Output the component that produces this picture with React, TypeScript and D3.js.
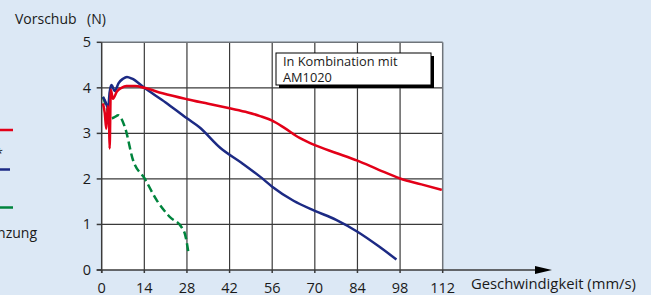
import React from "react";
import * as d3 from "d3";

const W = 651;
const H = 295;

const xTicks = [0, 14, 28, 42, 56, 70, 84, 98, 112];
const yTicks = [0, 1, 2, 3, 4, 5];

const redV = [0.4, 1.0, 1.5, 2.0, 2.4, 2.6, 3.0, 3.7, 5.0, 6.5, 8.1, 11, 14, 20, 28, 35, 42, 48, 52, 56, 60, 65, 70, 77, 84, 91, 98, 105, 111.7];
const redF = [3.66, 3.45, 3.1, 3.6, 3.3, 2.67, 3.96, 3.76, 3.92, 4.0, 4.04, 4.04, 4.0, 3.88, 3.75, 3.65, 3.55, 3.46, 3.38, 3.28, 3.12, 2.9, 2.74, 2.57, 2.4, 2.2, 2.01, 1.88, 1.76];

const blueV = [0.4, 1.2, 2.1, 2.6, 3.2, 4.3, 5.5, 7.0, 8.3, 10, 14, 21, 28, 32, 39, 46, 52, 56, 63, 70, 77, 84, 91, 96.8];
const blueF = [3.8, 3.7, 3.55, 3.9, 4.06, 3.93, 4.1, 4.2, 4.24, 4.2, 4.0, 3.68, 3.33, 3.14, 2.68, 2.35, 2.05, 1.83, 1.52, 1.3, 1.1, 0.84, 0.52, 0.23];

const greenV = [0.4, 1.5, 3.0, 4.3, 5.4, 7.6, 10.3, 14.1, 18, 22.3, 26.5, 27.3, 28.6];
const greenF = [3.8, 3.6, 3.33, 3.36, 3.4, 3.14, 2.41, 2.01, 1.54, 1.17, 0.91, 0.8, 0.33];

const FONT = "'Open Sans', 'DejaVu Sans', sans-serif";

export default function App() {
  const x = d3.scaleLinear().domain([0, 112]).range([101.7, 442.7]);
  const y = d3.scaleLinear().domain([0, 5]).range([270, 42.3]);

  const line = d3
    .line<[number, number]>()
    .x((d) => x(d[0]))
    .y((d) => y(d[1]))
    .curve(d3.curveMonotoneX);

  const red = line(redV.map((v, i) => [v, redF[i]]) as [number, number][]) || "";
  const blue = line(blueV.map((v, i) => [v, blueF[i]]) as [number, number][]) || "";
  const green = line(greenV.map((v, i) => [v, greenF[i]]) as [number, number][]) || "";

  const x0 = x(0);
  const x1 = x(112);
  const y0 = y(0);
  const y1 = y(5);

  return (
    <svg
      width={W}
      height={H}
      style={{ position: "absolute", left: 0, top: 0, display: "block" }}
      fontFamily={FONT}
    >
      <rect x={0} y={0} width={W} height={H} fill="#dce8f5" />
      {/* plot area */}
      <rect x={x0} y={y1} width={x1 - x0} height={y0 - y1} fill="#ffffff" />
      {/* grid */}
      {xTicks.slice(1, -1).map((t) => (
        <line key={"gx" + t} x1={x(t)} x2={x(t)} y1={y1} y2={y0} stroke="#3a3a3a" strokeWidth={1.2} />
      ))}
      {yTicks.slice(1, -1).map((t) => (
        <line key={"gy" + t} x1={x0} x2={x1} y1={y(t)} y2={y(t)} stroke="#3a3a3a" strokeWidth={1.2} />
      ))}
      {/* border top/right */}
      <line x1={x0} x2={x1} y1={y1} y2={y1} stroke="#6f747a" strokeWidth={1.5} />
      <line x1={x1} x2={x1} y1={y1} y2={y0} stroke="#6f747a" strokeWidth={1.5} />
      {/* axes */}
      <line x1={x0} x2={x0} y1={y1} y2={y0 + 3} stroke="#3a3a3a" strokeWidth={1.5} />
      <line x1={x0 - 5} x2={537} y1={y0} y2={y0} stroke="#3a3a3a" strokeWidth={1.5} />
      <path d={`M535,${y0 - 4} L552,${y0} L535,${y0 + 4} Z`} fill="#000" />
      {yTicks.map((t) => (
        <g key={"yt" + t}>
          <line x1={x0 - 5} x2={x0} y1={y(t)} y2={y(t)} stroke="#3a3a3a" strokeWidth={1.5} />
          <text x={91} y={y(t) + 5} textAnchor="end" fontSize={14.5} fill="#1a1a1a">
            {t}
          </text>
        </g>
      ))}
      {xTicks.map((t) => (
        <g key={"xt" + t}>
          <line x1={x(t)} x2={x(t)} y1={y0} y2={y0 + 3} stroke="#3a3a3a" strokeWidth={1.5} />
          <text x={x(t)} y={292.5} textAnchor="middle" fontSize={14.5} fill="#1a1a1a">
            {t}
          </text>
        </g>
      ))}
      {/* curves */}
      <path d={green} fill="none" stroke="#00843d" strokeWidth={2.5} strokeDasharray="8,4" />
      <path d={blue} fill="none" stroke="#1c2a84" strokeWidth={2.5} />
      <path d={red} fill="none" stroke="#e30018" strokeWidth={2.5} />
      {/* annotation box */}
      <rect x={279} y={56} width={155} height={32} fill="#000" />
      <rect x={276} y={53} width={155} height={32} fill="#fff" stroke="#000" strokeWidth={1} />
      <text x={283} y={66} fontSize={12.8} fill="#1a1a1a">In Kombination mit</text>
      <text x={283} y={81.5} fontSize={12.8} fill="#1a1a1a">AM1020</text>
      {/* titles */}
      <text x={15} y={23.5} fontSize={14} fill="#1a1a1a">Vorschub</text>
      <text x={87} y={23.5} fontSize={14} fill="#1a1a1a">(N)</text>
      <text x={471} y={288.5} fontSize={14.8} fill="#1a1a1a">Geschwindigkeit (mm/s)</text>
      {/* legend (cut off at left) */}
      <line x1={0} x2={13} y1={130} y2={130} stroke="#e30018" strokeWidth={2.5} />
      <text x={3} y={158} textAnchor="end" fontSize={13} fill="#1a1a1a">*</text>
      <line x1={0} x2={10} y1={169.5} y2={169.5} stroke="#1c2a84" strokeWidth={2.5} />
      <line x1={0} x2={13} y1={207.5} y2={207.5} stroke="#00843d" strokeWidth={2.5} />
      <text x={37} y={238} textAnchor="end" fontSize={14} fill="#1a1a1a">Ergänzung</text>
    </svg>
  );
}
